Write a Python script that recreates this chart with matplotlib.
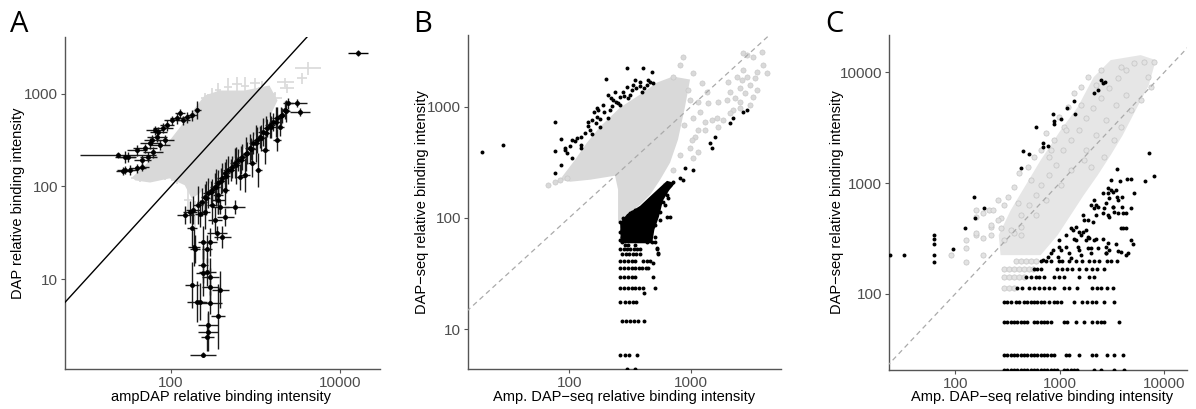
import matplotlib
matplotlib.use("Agg")
import matplotlib.pyplot as plt
from matplotlib.ticker import NullLocator
import numpy as np

plt.rcParams['font.family'] = ['Liberation Sans', 'DejaVu Sans']

# ---------------- panel A: ampDAP vs DAP, points with error crosses ----------------
# dense grey core (outline of the overlapping grey crosses)
a_cloud_x = [35, 57, 97, 158, 251, 377, 743, 1460, 1820, 1460, 703, 409, 288, 219, 177, 146, 97, 57, 38]
a_cloud_y = [125, 191, 312, 552, 950, 1077, 1077, 1220, 841, 552, 244, 149, 108, 84, 74, 103, 122, 110, 116]

# loose grey crosses (x, y, half-width of the bars in decades)
a_grey_x = [4190, 3556, 2240, 2365, 362, 475, 607, 755, 991, 1199, 308, 254, 43, 160, 194, 1460, 1700, 60, 85, 120]
a_grey_y = [1871, 1462, 1324, 1140, 1086, 1169, 1259, 1199, 1291, 1140, 959, 891, 122, 71, 49, 1000, 900, 135, 130, 118]
a_grey_dx = [0.15, 0.06, 0.10, 0.08, 0.04, 0.05, 0.06, 0.05, 0.06, 0.05, 0.06, 0.05, 0.10, 0.05, 0.05, 0.08, 0.08, 0.08, 0.08, 0.08]
a_grey_dy = [0.07, 0.06, 0.05, 0.05, 0.08, 0.10, 0.08, 0.10, 0.06, 0.08, 0.08, 0.06, 0.04, 0.12, 0.15, 0.08, 0.06, 0.05, 0.05, 0.05]

# black: higher in DAP than in ampDAP
a_up_x = [24, 29, 29, 33, 40, 46, 40, 50, 57, 60, 69, 71, 81, 90, 104, 119, 129, 140, 156, 86, 75, 54, 62, 46, 205, 179, 65, 31, 27]
a_up_y = [217, 207, 150, 150, 157, 161, 245, 258, 292, 315, 339, 384, 424, 456, 516, 542, 614, 516, 556, 315, 278, 207, 234, 192, 661, 585, 403, 207, 146]
a_up_dx = [0.45, 0.12, 0.10, 0.08, 0.10, 0.08, 0.12, 0.14, 0.12, 0.10, 0.12, 0.10, 0.12, 0.08, 0.10, 0.08, 0.06, 0.08, 0.06, 0.10, 0.12, 0.10, 0.12, 0.10, 0.04, 0.06, 0.10, 0.10, 0.08]
a_up_dy = [0.03, 0.06, 0.04, 0.05, 0.05, 0.04, 0.06, 0.05, 0.06, 0.05, 0.05, 0.06, 0.05, 0.06, 0.05, 0.06, 0.05, 0.05, 0.06, 0.05, 0.05, 0.05, 0.06, 0.05, 0.10, 0.06, 0.05, 0.05, 0.04]

# black: lower in DAP than in ampDAP
a_lo_x = [2430, 3100, 3370, 2240, 2065, 1800, 1620, 1490, 1375, 1230, 1135, 1050, 940, 865, 800, 695, 625, 575,
          530, 475, 440, 403, 362, 334, 308, 276, 255, 235, 1075, 912, 1800, 1955, 660, 575, 440, 403, 183, 179,
          194, 241, 291, 169, 210, 254, 308, 362, 148, 334,
          222, 188, 268, 352, 382, 241, 291, 179, 205, 222, 291, 362, 276, 276, 270, 241, 241, 270, 291, 382,
          261, 299, 343, 393, 450, 515, 590, 676, 774, 889, 1018, 1167, 1336, 1531, 1754, 2009, 2301,
          362, 438, 755, 1300]
a_lo_y = [787, 787, 630, 661, 585, 542, 491, 456, 424, 384, 339, 315, 292, 258, 228, 207, 192, 178,
          161, 150, 139, 123, 109, 98, 91, 85, 77, 68, 150, 178, 315, 434, 126, 60, 47, 28.5, 56, 36,
          21, 25, 25, 53, 63, 53, 63, 71, 49, 43,
          51, 22, 21, 31.5, 60, 11.7, 10.6, 8.7, 5.7, 5.7, 5.6, 4.0, 3.2, 2.7, 2.4, 1.54, 14.3, 12, 8.3, 7.7,
          74.8, 86.5, 98, 114, 129, 150, 169, 192, 222, 252, 292, 330, 374, 434, 491, 570, 646,
          80.5, 91, 132, 245]
a_lo_dx = [0.06, 0.12, 0.12, 0.05, 0.05, 0.06, 0.05, 0.06, 0.05, 0.06, 0.05, 0.06, 0.05, 0.06, 0.05, 0.06, 0.05, 0.06,
           0.05, 0.06, 0.05, 0.06, 0.05, 0.06, 0.05, 0.06, 0.05, 0.06, 0.04, 0.05, 0.05, 0.05, 0.06, 0.12, 0.10, 0.10, 0.08, 0.06,
           0.06, 0.06, 0.08, 0.08, 0.06, 0.06, 0.06, 0.08, 0.10, 0.08,
           0.06, 0.07, 0.06, 0.12, 0.10, 0.08, 0.10, 0.08, 0.12, 0.06, 0.14, 0.08, 0.12, 0.12, 0.08, 0.15, 0.06, 0.10, 0.10, 0.10,
           0.05, 0.06, 0.05, 0.06, 0.05, 0.06, 0.05, 0.06, 0.05, 0.06, 0.05, 0.06, 0.05, 0.06, 0.05, 0.06, 0.05,
           0.06, 0.05, 0.06, 0.05]
a_lo_dy = [0.06, 0.04, 0.04, 0.10, 0.08, 0.12, 0.10, 0.14, 0.10, 0.15, 0.12, 0.14, 0.12, 0.15, 0.12, 0.14, 0.12, 0.16,
           0.12, 0.15, 0.12, 0.16, 0.14, 0.15, 0.12, 0.16, 0.14, 0.15, 0.18, 0.15, 0.12, 0.10, 0.14, 0.08, 0.10, 0.12, 0.15, 0.20,
           0.15, 0.18, 0.15, 0.12, 0.20, 0.18, 0.20, 0.15, 0.10, 0.14,
           0.15, 0.20, 0.15, 0.08, 0.08, 0.25, 0.20, 0.25, 0.22, 0.20, 0.12, 0.35, 0.15, 0.20, 0.15, 0.03, 0.20, 0.15, 0.20, 0.20,
           0.18, 0.12, 0.20, 0.14, 0.18, 0.12, 0.20, 0.15, 0.18, 0.12, 0.20, 0.14, 0.18, 0.12, 0.16, 0.10, 0.12,
           0.20, 0.16, 0.18, 0.15]

a_far_x = [16300]
a_far_y = [2712]

# ---------------- panel B: Amp. DAP-seq vs DAP-seq ----------------
b_cloud_x = [84, 112, 140, 180, 262, 382, 526, 711, 981, 893, 782, 673, 558, 462, 382, 316, 272, 252, 252, 238, 149, 102]
b_cloud_y = [220, 333, 474, 661, 980, 1282, 1645, 1862, 1750, 1000, 505, 313, 220, 161, 131, 111, 92, 92, 179, 239, 220, 211]

b_grey_x = [859, 813, 1038, 1230, 1352, 1663, 1377, 1140, 1186, 1038, 1303, 1486, 1633, 1140, 1079, 981, 1019,
            2010, 2089, 2382, 2618, 2877, 3048, 2523, 2670, 2877, 3221, 3819, 3475, 3890, 4198, 3221, 3048, 2523,
            2208, 2523, 1972, 2296, 2773, 3475, 3350, 2670, 2089, 1828, 1663, 1303, 1140, 1038, 711, 84, 77, 67, 96,
            944, 981, 877, 813, 711, 612]
b_grey_y = [2800, 2370, 2010, 1633, 1355, 1102, 1079, 1102, 896, 791, 729, 759, 791, 618, 535, 426, 502,
            1667, 1355, 1849, 1738, 1849, 1567, 1472, 3034, 2911, 2800, 3100, 2051, 2370, 2010, 1222, 1035, 973,
            934, 1102, 1148, 1197, 1327, 1412, 1811, 2138, 877, 759, 658, 618, 392, 346, 1849, 219, 210, 198, 229,
            1412, 1148, 686, 368, 270, 198]

b_up_x = [19.4, 28.8, 76.7, 76.7, 76.7, 86, 86, 96, 106, 116, 125, 125, 125, 135, 149, 154, 170, 180, 170, 190,
          201, 217, 230, 252, 262, 277, 299, 299, 316, 335, 348, 382, 396, 404, 436, 479, 461, 489, 143, 160, 209,
          238, 106, 93,
          143, 155, 166, 180, 194, 209, 225, 243, 262, 282, 305, 328, 354, 382, 412, 444, 221, 112, 102, 93, 173]
b_up_y = [392, 453, 729, 400, 253, 513, 299, 384, 346, 524, 535, 453, 426, 581, 618, 759, 807, 656, 973, 1035,
          1774, 934, 1148, 1079, 1222, 1355, 1503, 2230, 1273, 1567, 1738, 1667, 1355, 2230, 1567, 2051, 1667, 1633,
          729, 896, 1273, 1355, 502, 426,
          671, 569, 714, 776, 896, 791, 1014, 1102, 1035, 1248, 1197, 1412, 1472, 1535, 1472, 1738, 1197, 490, 442, 407, 933]

b_right_x = [1432, 1486, 1574, 2089, 2208, 2670, 2877, 1038, 893, 813, 859]
b_right_y = [472, 426, 535, 714, 791, 896, 934, 270, 281, 229, 219]

# dense black band just below the grey cloud
b_band_x = [262, 299, 382, 489, 635, 740, 660, 589, 545, 500, 480, 265]
b_band_y = [90, 108, 128, 165, 215, 205, 176, 143, 102, 78, 59, 59]

b_lo_x = [635, 507, 507, 461, 404, 361, 316, 277, 272, 299, 335, 382, 436, 479, 272, 305, 272, 382, 436, 361,
          404, 461, 526, 557, 612, 673, 711, 436, 489, 537, 589, 635, 299, 328, 348, 316, 277, 262, 262, 262,
          288, 335, 420, 382, 461, 507, 557, 612, 647, 420, 288, 348, 479, 557, 673, 489, 537, 526, 412]
b_lo_y = [102, 60, 67, 78, 90, 96, 83, 90, 78, 70, 66, 63, 61, 61, 61, 57, 67, 75, 73, 111,
          118, 131, 151, 168, 186, 198, 210, 106, 113, 123, 139, 161, 102, 113, 118, 111, 100, 92, 75, 63,
          81, 81, 85, 100, 100, 86, 113, 131, 151, 131, 57, 57, 92, 96, 102, 39, 48, 54, 21]

# counts are discrete at low intensity: one row per level
b_row_levels = [52.7, 46.8, 41.0, 35.1, 29.3, 23.4, 17.6, 11.7, 5.85, 4.4]
b_row_x = [
    [262, 280, 298, 318, 338, 360, 382, 523],
    [270, 290, 310, 333, 355, 380, 537],
    [262, 282, 303, 325, 345, 407, 433, 461],
    [262, 282, 303, 325, 348, 372, 398, 424, 445],
    [262, 282, 303, 325, 350, 483],
    [262, 282, 303, 325, 348, 372, 400, 507],
    [262, 285, 310, 335, 355],
    [270, 292, 315, 340, 365, 412],
    [262, 285, 310, 358],
    [299, 348],
]

# ---------------- panel C: Amp. DAP-seq vs DAP-seq ----------------
c_cloud_x = [2115, 1487, 1022, 658, 473, 340, 261, 272, 658, 957, 1274, 1698, 2312, 3076, 4010, 5333, 7112, 8300, 5954, 3076]
c_cloud_y = [9057, 4853, 3006, 1614, 959, 570, 340, 224, 224, 340, 514, 779, 1181, 1790, 2711, 4560, 7656, 12890, 14290, 12890]

c_grey_x = [91, 126, 126, 157, 183, 157, 209, 219, 255, 272, 318, 363, 396, 406, 494, 527, 564, 658, 734, 785,
            877, 978, 1092, 1193, 1361, 1589, 1855, 2466, 3834, 5107, 6367, 7937, 6955, 7430, 5954, 4780, 3834,
            3288, 2636, 1982, 1698, 363, 291, 424, 126, 157, 183, 219, 219, 255, 272, 157, 183, 229, 291,
            340, 424, 505, 589, 658, 785, 916, 1069, 1274, 1520, 1774, 2071, 2466, 2944, 3590, 4285,
            589, 734, 1022, 1274, 1774, 2208, 2754, 3435, 4285, 424, 821, 1141, 1589, 2208]
c_grey_y = [224, 259, 306, 340, 224, 493, 570, 401, 703, 483, 748, 920, 659, 1230, 1394, 1064, 1716, 1985, 2826, 1716,
            2434, 3945, 3200, 4853, 6490, 7340, 9060, 10470, 11140, 12100, 12360, 12360, 9060, 7340, 5610, 4560, 3200,
            2434, 1716, 1394, 1614, 354, 306, 401, 194, 354, 319, 418, 340, 464, 393, 570, 536, 570, 633,
            377, 514, 633, 779, 959, 1181, 1453, 1985, 2443, 3006, 3862, 4753, 5848, 7194, 8865, 10470,
            514, 703, 959, 1310, 1985, 2711, 3706, 5058, 6223, 340, 1985, 3006, 5058, 7656]

c_grey_row_levels = [197, 169, 141, 113]
c_grey_row_x = [
    [380, 424, 473, 527, 590],
    [293, 330, 366, 410, 455, 509, 550],
    [293, 330, 366, 410, 455],
    [293, 330, 366],
]

c_dot_x = [23.6, 32.1, 62.2, 62.2, 62.2, 62.2, 62.2, 94.6, 123, 150, 154, 187, 424, 443, 505, 687, 687, 768, 589, 877,
           877, 857, 1022, 1166, 1393, 1361, 2115, 2312, 2466, 2576, 2697,
           7112, 7937, 6500, 4780, 4375, 3750, 3510, 5107, 3920, 3510, 3920, 4285, 4285, 3834, 4780, 4997, 4285,
           2944, 3215, 2754, 2944, 3288, 2576, 2876, 3590, 3076, 3215, 3435, 3076, 2876, 2576, 2312, 2115, 2115,
           1982, 1855, 1774, 1660, 1855, 1982, 2208, 2576, 2754, 2944, 2754, 3435, 3590, 3834,
           2208, 2636, 3215, 3590, 2876, 4010, 4780, 1660, 1698, 1422, 1332, 1520, 1589, 1141, 1274, 2071, 2208,
           4010, 4480, 2876, 2754, 2312, 2115, 1774, 1422, 1361, 978, 1141, 1022, 821, 978, 857, 1520, 1219,
           1487, 1897, 1855, 768, 687, 957, 1274, 1589, 1982]
c_dot_y = [224, 224, 340, 313, 281, 224, 194, 254, 393, 748, 483, 594, 1365, 1944, 1827, 2296, 2113, 2158, 3200, 3404,
           3630, 4198, 3784, 4750, 4198, 5495, 6490, 6900, 8510, 7990, 8160,
           1866, 1157, 1042, 1087, 1087, 1042, 1337, 812, 748, 748, 607, 536, 393, 393, 306, 281, 224,
           733, 607, 659, 493, 547, 536, 812, 703, 1064, 830, 864, 864, 901, 812, 607, 703, 594,
           633, 464, 377, 362, 326, 259, 313, 313, 264, 248, 233, 281, 243, 238,
           633, 594, 607, 536, 514, 536, 594, 514, 464, 401, 377, 362, 340, 340, 393, 445, 514,
           393, 233, 287, 233, 259, 306, 306, 306, 313, 306, 264, 248, 233, 264, 248, 248, 233,
           264, 319, 259, 215, 202, 215, 210, 224, 233]

c_row_levels = [197, 169, 141, 112.8, 84.6, 56.4, 28.2, 20.6]
c_row_x = [
    [658, 735, 821, 985, 1060, 1230, 1420, 1650, 1910, 2130, 2380, 2858, 3076, 3564],
    [568, 612, 658, 951, 1060, 1185, 1320, 1530, 1775, 2050, 2294, 2655],
    [473, 527, 590, 635, 708, 881, 980, 1100, 1530, 1910, 2130],
    [394, 440, 509, 568, 630, 708, 790, 881, 1100, 1230, 1476, 2050, 2294, 2467, 2858, 3260],
    [293, 316, 340, 380, 410, 455, 491, 527, 568, 612, 658, 708, 790, 881, 951, 1022, 1371, 1650, 1841, 2050, 2210, 2655, 3311],
    [293, 316, 340, 366, 394, 424, 455, 491, 568, 612, 658, 708, 762, 821, 1100, 1185, 1422, 1710, 2050, 2294, 2467, 2655, 3700],
    [293, 316, 340, 366, 394, 424, 455, 491, 527, 568, 612, 658, 708, 762, 821, 881, 1140, 1230, 1530, 2050, 2200, 2858, 3311, 4060],
    [293, 316, 340, 366, 394, 424, 455, 491, 527, 568, 612, 658, 708, 762, 821, 881, 951, 1100, 1185, 1274, 1371, 1476, 2130, 2467, 3311, 4120],
]

GREY = '#d9d9d9'
GREY_EDGE = '#c4c4c4'
AXC = '#4d4d4d'


def log_err(v, d):
    v = np.asarray(v, float)
    d = np.asarray(d, float)
    return np.vstack([v - v / 10 ** d, v * 10 ** d - v])


def style(ax, xlim, ylim, xt, yt, xlabel, ylabel, xl_pos, yl_pos):
    ax.set_xscale('log')
    ax.set_yscale('log')
    ax.set_xlim(*xlim)
    ax.set_ylim(*ylim)
    ax.set_xticks(xt)
    ax.set_xticklabels([str(t) for t in xt])
    ax.set_yticks(yt)
    ax.set_yticklabels([str(t) for t in yt])
    ax.xaxis.set_minor_locator(NullLocator())
    ax.yaxis.set_minor_locator(NullLocator())
    for s in ['top', 'right']:
        ax.spines[s].set_visible(False)
    for s in ['left', 'bottom']:
        ax.spines[s].set_color('#555555')
        ax.spines[s].set_linewidth(1.0)
    ax.tick_params(direction='out', length=3, width=0.8, color='#555555',
                   labelcolor=AXC, labelsize=11, pad=2)
    ax.set_xlabel(xlabel, fontsize=10.5)
    ax.set_ylabel(ylabel, fontsize=10.5)
    ax.xaxis.set_label_coords(*xl_pos)
    ax.yaxis.set_label_coords(*yl_pos)


fig = plt.figure(figsize=(11.96, 4.09), dpi=100)

# ---- A ----
ax = fig.add_axes([65 / 1196, 40 / 409, 315 / 1196, 332 / 409])
ax.fill(a_cloud_x, a_cloud_y, color=GREY, lw=0, zorder=1)
ax.errorbar(a_grey_x, a_grey_y, xerr=log_err(a_grey_x, a_grey_dx), yerr=log_err(a_grey_y, a_grey_dy),
            fmt='none', ecolor=GREY, elinewidth=1.2, zorder=2)
ax.plot([5, 30000], [5, 30000], color='black', lw=1.0, zorder=3)
ax.errorbar(a_up_x, a_up_y, xerr=log_err(a_up_x, a_up_dx), yerr=log_err(a_up_y, a_up_dy),
            fmt='o', ms=2.5, color='black', ecolor='#1a1a1a', elinewidth=1.0, zorder=4)
ax.errorbar(a_lo_x, a_lo_y, xerr=log_err(a_lo_x, a_lo_dx), yerr=log_err(a_lo_y, a_lo_dy),
            fmt='o', ms=2.5, color='black', ecolor='#1a1a1a', elinewidth=1.0, zorder=4)
ax.errorbar(a_far_x, a_far_y, xerr=log_err(a_far_x, [0.12]), yerr=log_err(a_far_y, [0.03]),
            fmt='o', ms=2.5, color='black', elinewidth=1.0, zorder=4)
style(ax, (5.64, 29500), (1.08, 4060), [100, 10000], [10, 100, 1000],
      'ampDAP relative binding intensity', 'DAP relative binding intensity',
      (0.495, -0.063), (-0.127, 0.5))

# ---- B ----
ax = fig.add_axes([468 / 1196, 40 / 409, 313 / 1196, 334 / 409])
ax.fill(b_cloud_x, b_cloud_y, color=GREY, lw=0, zorder=1)
ax.scatter(b_grey_x, b_grey_y, s=14, facecolor=GREY, edgecolor=GREY_EDGE, linewidths=0.4, zorder=2)
ax.plot([10, 10000], [10, 10000], color='#aaaaaa', lw=0.9, ls=(0, (4, 3)), zorder=3)
ax.fill(b_band_x, b_band_y, color='black', lw=0, zorder=4)
ax.scatter(b_up_x, b_up_y, s=8, color='black', lw=0, zorder=5)
ax.scatter(b_right_x, b_right_y, s=8, color='black', lw=0, zorder=5)
ax.scatter(b_lo_x, b_lo_y, s=8, color='black', lw=0, zorder=5)
for lev, xs in zip(b_row_levels, b_row_x):
    ax.scatter(xs, [lev] * len(xs), s=8, color='black', lw=0, zorder=5)
style(ax, (14.8, 5470), (4.37, 4400), [100, 1000], [10, 100, 1000],
      'Amp. DAP\u2212seq relative binding intensity', 'DAP\u2212seq relative binding intensity',
      (0.498, -0.063), (-0.125, 0.5))

# ---- C ----
ax = fig.add_axes([889 / 1196, 39 / 409, 298 / 1196, 335 / 409])
ax.fill(c_cloud_x, c_cloud_y, color='#e6e6e6', lw=0, zorder=1)
ax.scatter(c_grey_x, c_grey_y, s=14, facecolor='#e2e2e2', edgecolor=GREY_EDGE, linewidths=0.5, zorder=2)
for lev, xs in zip(c_grey_row_levels, c_grey_row_x):
    ax.scatter(xs, [lev] * len(xs), s=14, facecolor='#e2e2e2', edgecolor=GREY_EDGE, linewidths=0.5, zorder=2)
ax.plot([10, 30000], [10, 30000], color='#aaaaaa', lw=0.9, ls=(0, (4, 3)), zorder=3)
ax.scatter(c_dot_x, c_dot_y, s=8, color='black', lw=0, zorder=5)
for lev, xs in zip(c_row_levels, c_row_x):
    ax.scatter(xs, [lev] * len(xs), s=8, color='black', lw=0, zorder=5)
style(ax, (23.3, 16500), (20.6, 21700), [100, 1000, 10000], [100, 1000, 10000],
      'Amp. DAP\u2212seq relative binding intensity', 'DAP\u2212seq relative binding intensity',
      (0.513, -0.06), (-0.151, 0.5))

for lab, xp in zip(['A', 'B', 'C'], [10, 413, 825]):
    fig.text(xp / 1196, 1 - 32 / 409, lab, fontsize=21, family=['Open Sans', 'DejaVu Sans'], color='black')

fig.savefig('out.png', dpi=100)
